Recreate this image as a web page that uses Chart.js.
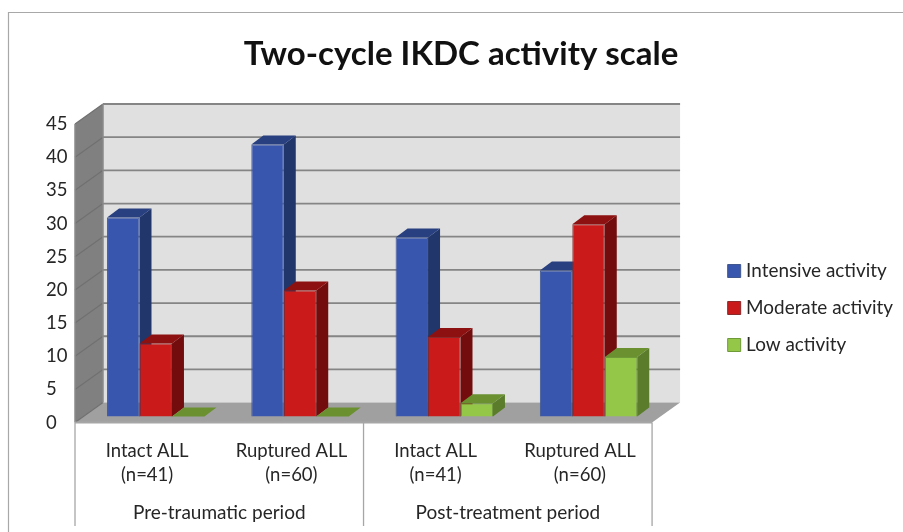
<!DOCTYPE html>
<html lang="en">
<head>
    <meta charset="UTF-8">
    <title>Two-cycle IKDC activity scale</title>
    <script src="https://cdn.jsdelivr.net/npm/chart.js"></script>
    <style>
        body { margin: 0; background: #fff; }
        canvas { display: block; }
    </style>
</head>
<body>
    <canvas id="chart" width="903" height="532"></canvas>

    <script>
        // values
        const categories = [['Intact ALL', '(n=41)'], ['Ruptured ALL', '(n=60)'], ['Intact ALL', '(n=41)'], ['Ruptured ALL', '(n=60)']];
        const periods = ['Pre-traumatic period', 'Post-treatment period'];
        const intensive = [30, 41, 27, 22];
        const moderate = [11, 19, 12, 29];
        const low = [0, 0, 2, 9];
        const yMax = 45;
        const yStep = 5;

        // depth of the fake 3D box and of the bars
        const wallDX = 28, wallDY = 20;
        const barDX = 12, barDY = 9;
        const barShiftX = 8.6, barShiftY = -6;
        const textColor = '#262626';
        const fontName = 'Lato';
        const fontSize = 18.5;

        function poly(ctx, pts, fill) {
            ctx.beginPath();
            pts.forEach((p, i) => i ? ctx.lineTo(p[0], p[1]) : ctx.moveTo(p[0], p[1]));
            ctx.closePath();
            ctx.fillStyle = fill;
            ctx.fill();
        }

        function line(ctx, x1, y1, x2, y2, color, width) {
            ctx.beginPath();
            ctx.moveTo(x1, y1);
            ctx.lineTo(x2, y2);
            ctx.strokeStyle = color;
            ctx.lineWidth = width;
            ctx.stroke();
        }

        const box3d = {
            id: 'box3d',
            afterLayout(chart) {
                // title a bit left of the page centre, legend a bit below it
                chart.titleBlock.right -= 27;
                chart.legend.top += 84;
            },
            beforeDraw(chart) {
                // outer frame of the pasted chart
                const ctx = chart.ctx;
                line(ctx, 8, 12.5, 903, 12.5, '#a8a8a8', 1.2);
                line(ctx, 8.5, 12, 8.5, 532, '#a8a8a8', 1.2);
            },
            beforeDatasetsDraw(chart) {
                const ctx = chart.ctx;
                const { left, right, top, bottom } = chart.chartArea;
                const yScale = chart.scales.y;

                // walls and floor
                poly(ctx, [[left + wallDX, top - wallDY], [right + wallDX, top - wallDY], [right + wallDX, bottom - wallDY], [left + wallDX, bottom - wallDY]], '#e0e0e0');
                poly(ctx, [[left, top], [left + wallDX, top - wallDY], [left + wallDX, bottom - wallDY], [left, bottom]], '#808080');
                poly(ctx, [[left, bottom], [left + wallDX, bottom - wallDY], [right + wallDX, bottom - wallDY], [right, bottom]], '#a0a0a0');

                // gridlines run along the back wall and down the side wall
                yScale.ticks.forEach(t => {
                    const y = yScale.getPixelForValue(t.value);
                    if (t.value > 0) {
                        line(ctx, left + wallDX, y - wallDY, right + wallDX, y - wallDY, '#858585', 1.8);
                    }
                    line(ctx, left, y, left + wallDX, y - wallDY, '#707070', 1.2);
                });
                line(ctx, left + wallDX, top - wallDY, left + wallDX, bottom - wallDY, '#8a8a8a', 1.5);
                line(ctx, left, top, left, bottom, '#8a8a8a', 1.5);

                // fronts come from the library, shifted into the box
                ctx.save();
                ctx.translate(barShiftX, barShiftY);

                // side and top faces in series order, so each front covers the face before it
                chart.data.datasets.forEach((ds, i) => {
                    chart.getDatasetMeta(i).data.forEach(bar => {
                        const { x, y, base, width } = bar.getProps(['x', 'y', 'base', 'width'], true);
                        const l = x - width / 2, r = x + width / 2;
                        poly(ctx, [[r, y], [r + barDX, y - barDY], [r + barDX, base - barDY], [r, base]], ds.sideColor);
                        poly(ctx, [[l, y], [l + barDX, y - barDY], [r + barDX, y - barDY], [r, y]], ds.topColor);
                    });
                });
            },
            afterDatasetsDraw(chart) {
                chart.ctx.restore();
            },
            afterDraw(chart) {
                const ctx = chart.ctx;
                const { left, right, bottom } = chart.chartArea;
                const x = chart.scales.x;
                const mid = (x.getPixelForValue(1) + x.getPixelForValue(2)) / 2;

                // front edge, group separators and group names
                line(ctx, left, bottom, right, bottom, '#a6a6a6', 2);
                [left, mid, right].forEach(px => line(ctx, px, bottom, px, 526, '#a6a6a6', 1.3));

                ctx.fillStyle = textColor;
                ctx.font = '19px ' + fontName;
                ctx.textAlign = 'center';
                ctx.textBaseline = 'middle';
                ctx.fillText(periods[0], (left + mid) / 2, 513);
                ctx.fillText(periods[1], (mid + right) / 2, 513);
            }
        };

        new Chart(document.getElementById('chart'), {
            type: 'bar',
            data: {
                labels: categories,
                datasets: [
                    { label: 'Intensive activity', data: intensive, backgroundColor: '#3956AF', borderColor: '#40578F', sideColor: '#21366B', topColor: '#283F80' },
                    { label: 'Moderate activity', data: moderate, backgroundColor: '#CB1A1A', borderColor: '#8A2A2A', sideColor: '#730C0C', topColor: '#8E1111' },
                    { label: 'Low activity', data: low, backgroundColor: '#94C748', borderColor: '#6F9A38', sideColor: '#5A7C2B', topColor: '#6A9030' }
                ]
            },
            options: {
                responsive: false,
                animation: false,
                layout: { padding: { left: 46 } },
                datasets: { bar: { barPercentage: 1, categoryPercentage: 0.675, borderWidth: 1, clip: false } },
                scales: {
                    x: {
                        grid: { display: false },
                        border: { display: false },
                        ticks: { color: textColor, font: { family: fontName, size: fontSize, lineHeight: 1.3 }, padding: 8, maxRotation: 0, autoSkip: false },
                        afterFit(s) { s.height = 109.4; }
                    },
                    y: {
                        min: 0,
                        max: yMax,
                        grid: { display: false },
                        border: { display: false },
                        ticks: { stepSize: yStep, color: textColor, font: { family: fontName, size: fontSize }, crossAlign: 'far', padding: 0 },
                        afterFit(s) { s.width = 29; }
                    },
                    // empty axis, only keeps the legend away from the plot
                    gap: {
                        axis: 'y',
                        position: 'right',
                        grid: { display: false },
                        border: { display: false },
                        ticks: { display: false },
                        afterFit(s) { s.width = 61.5; }
                    }
                },
                plugins: {
                    title: {
                        display: true,
                        text: 'Two-cycle IKDC activity scale',
                        color: '#111',
                        font: { family: fontName, size: 33, weight: 'bold' },
                        padding: { top: 35, bottom: 49.4 }
                    },
                    legend: {
                        position: 'right',
                        maxWidth: 200,
                        labels: {
                            color: textColor,
                            font: { family: fontName, size: 18.9 },
                            usePointStyle: true,
                            pointStyle: 'rect',
                            boxWidth: 5,
                            boxHeight: 13,
                            padding: 18.1
                        }
                    },
                    tooltip: { enabled: false }
                }
            },
            plugins: [box3d]
        });
    </script>
</body>
</html>
